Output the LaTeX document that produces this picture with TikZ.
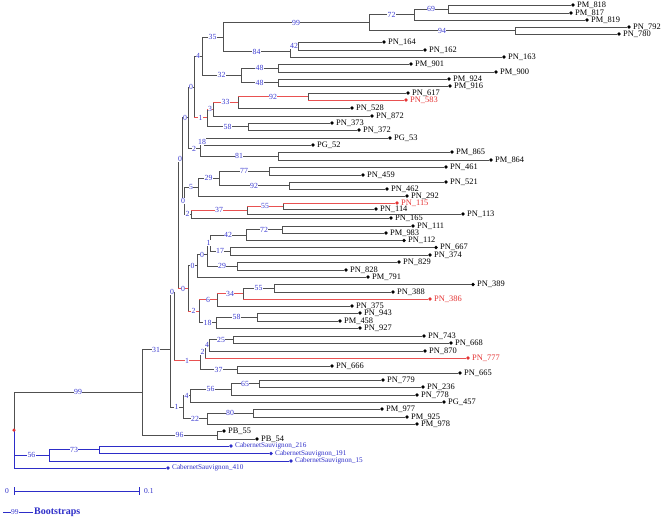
\documentclass[tikz,border=0pt]{standalone}
\usepackage{fontspec}
\setmainfont{Liberation Serif}
\definecolor{brgray}{RGB}{80,80,80}
\definecolor{bsblue}{RGB}{60,60,210}
\definecolor{hlred}{RGB}{228,50,50}
\definecolor{csblue}{RGB}{45,45,200}
% internal node: name, x, first child, last child (y = middle of children)
\newcommand{\inode}[4]{%
  \path (#3.center) -- (#4.center) coordinate[midway] (#1m);
  \coordinate (#1) at (#1m -| #2,0);}
\begin{document}
\begin{tikzpicture}[x=1pt,y=-1pt,
  br/.style={draw=brgray, line width=0.9pt},
  redbr/.style={draw=hlred!85, line width=0.9pt},
  bluebr/.style={draw=csblue, line width=0.9pt},
  bs/.style={pos=0.75, fill=white, inner sep=0.4pt, text=bsblue, font=\fontsize{7.8}{8}\selectfont},
  leafdot/.style={circle, fill=black, inner sep=0pt, minimum size=3.6pt},
  leaflbl/.style={anchor=west, inner sep=0pt, xshift=2pt, font=\fontsize{8.4}{9}\selectfont},
  cslbl/.style={leaflbl, text=csblue, font=\fontsize{7.2}{8}\selectfont},
]
\useasboundingbox (0,0) rectangle (662,519);

% leaves
\foreach \n/\x/\y/\t in {pm818/573/5/PM\_818, pm817/571/13/PM\_817, pm819/587/20/PM\_819,
    pn792/629/27/PN\_792, pn780/619/34/PN\_780, pn164/384/42/PN\_164, pn162/425/50/PN\_162,
    pn163/504/57/PN\_163, pm901/411/64/PM\_901, pm900/496/72/PM\_900, pm924/449/79/PM\_924,
    pm916/450/86/PM\_916, pn617/408/93/PN\_617, pn528/352/108/PN\_528, pn872/372/116/PN\_872,
    pn373/332/123/PN\_373, pn372/359/130/PN\_372, pg53/390/138/PG\_53, pg52/313/145/PG\_52,
    pm865/452/152/PM\_865, pm864/491/160/PM\_864, pn461/446/167/PN\_461, pn459/363/175/PN\_459,
    pn521/446/182/PN\_521, pn462/387/189/PN\_462, pn292/407/196/PN\_292, pn114/376/209/PN\_114,
    pn113/463/214/PN\_113, pn165/391/218/PN\_165, pn111/413/226/PN\_111, pm983/386/233/PM\_983,
    pn112/404/240.5/PN\_112, pn667/436/247.5/PN\_667, pn374/430/255/PN\_374, pn829/399/262/PN\_829,
    pn828/346/270/PN\_828, pm791/368/277/PM\_791, pn389/473/284.5/PN\_389, pn388/393/292/PN\_388,
    pn375/352/306/PN\_375, pn943/360/313/PN\_943, pm458/340/321/PM\_458, pn927/360/328/PN\_927,
    pn743/424/336/PN\_743, pn668/451/343/PN\_668, pn870/425/351/PN\_870, pn666/332/366/PN\_666,
    pn665/460/373/PN\_665, pn779/383/380/PN\_779, pn236/423/387/PN\_236, pn778/417/395/PN\_778,
    pg457/444/402/PG\_457, pm977/382/409/PM\_977, pm925/407/417/PM\_925, pm978/417/424/PM\_978,
    pb55/224/431/PB\_55, pb54/257/439/PB\_54}
{
  \node[leafdot] (\n) at (\x,\y) {};
  \node[leaflbl] (\n-l) at (\n.east) {\t};
}
\foreach \n/\x/\y/\t in {pn583/406/100/PN\_583, pn115/397/203/PN\_115, pn386/430/299/PN\_386, pn777/468/358/PN\_777}
{
  \node[leafdot, fill=hlred] (\n) at (\x,\y) {};
  \node[leaflbl, text=hlred] (\n-l) at (\n.east) {\t};
}
\foreach \n/\x/\y/\t in {cs216/231/446/CabernetSauvignon\_216, cs191/271/453.5/CabernetSauvignon\_191,
    cs15/291/461/CabernetSauvignon\_15, cs410/168/468/CabernetSauvignon\_410}
{
  \node[leafdot, fill=csblue] (\n) at (\x,\y) {};
  \node[cslbl] (\n-l) at (\n.east) {\t};
}

% internal nodes, from the tips down to the root
\inode{n69}{448}{pm818}{pm817}
\inode{n72}{414}{n69}{pm819}
\inode{n94}{515}{pn792}{pn780}
\inode{n99}{369}{n72}{n94}
\inode{n42}{298}{pn164}{pn162}
\inode{n84}{290}{n42}{pn163}
\inode{n35}{223}{n99}{n84}
\inode{n48a}{278}{pm901}{pm900}
\inode{n48b}{278}{pm924}{pm916}
\inode{n32}{241}{n48a}{n48b}
\inode{n4}{202}{n35}{n32}
\inode{n92}{308}{pn617}{pn583}
\inode{n33}{238}{n92}{pn528}
\inode{n3}{213}{n33}{pn872}
\inode{n58}{248}{pn373}{pn372}
\inode{r1}{207}{n3}{n58}
\inode{nB}{194}{n4}{r1}
\inode{n18}{204}{pg53}{pg52}
\inode{n81}{278}{pm865}{pm864}
\inode{n2}{200}{n18}{n81}
\inode{nC}{188}{nB}{n2}
\inode{n77}{269}{pn461}{pn459}
\inode{n92b}{289}{pn521}{pn462}
\inode{n29}{219}{n77}{n92b}
\inode{n5}{198}{n29}{pn292}
\inode{n55}{283}{pn115}{pn114}
\inode{n37}{247}{n55}{pn113}
\inode{n2b}{191}{n37}{pn165}
\inode{nE}{184}{n5}{n2b}
\inode{nD}{182}{nC}{nE}
\inode{n72b}{282}{pn111}{pm983}
\inode{n42b}{246}{n72b}{pn112}
\inode{n17}{230}{pn667}{pn374}
\inode{nH}{210}{n42b}{n17}
\inode{n29b}{237}{pn829}{pn828}
\inode{nI}{207}{nH}{n29b}
\inode{nJ}{197}{nI}{pm791}
\inode{n55b}{274}{pn389}{pn388}
\inode{n34}{243}{n55b}{pn386}
\inode{n6}{217}{n34}{pn375}
\inode{n58b}{257}{pn943}{pm458}
\inode{n18b}{216}{n58b}{pn927}
\inode{nK}{199}{n6}{n18b}
\inode{nL}{188}{nJ}{nK}
\inode{nF}{178}{nD}{nL}
\inode{n25}{233}{pn743}{pn668}
\inode{nQ}{209}{n25}{pn870}
\inode{nP}{205}{nQ}{pn777}
\inode{n37b}{237}{pn666}{pn665}
\inode{nN}{200}{nP}{n37b}
\inode{nM}{174}{nF}{nN}
\inode{n65}{259}{pn779}{pn236}
\inode{n56b}{231}{n65}{pn778}
\inode{nR}{190}{n56b}{pg457}
\inode{n80}{253}{pm977}{pm925}
\inode{n22}{207}{n80}{pm978}
\inode{nO}{183}{nR}{n22}
\inode{n31}{170}{nM}{nO}
\inode{n96}{217}{pb55}{pb54}
\inode{nin}{142}{n31}{n96}
\inode{n73}{99}{cs216}{cs191}
\inode{n56}{49}{n73}{cs15}
\inode{root}{14}{nin}{cs410}

% branches to the tips
\foreach \p/\c in {n69/pm818, n69/pm817, n72/pm819, n94/pn792, n94/pn780, n42/pn164, n42/pn162,
    n84/pn163, n48a/pm901, n48a/pm900, n48b/pm924, n48b/pm916, n92/pn617, n33/pn528, n3/pn872,
    n58/pn373, n58/pn372, n18/pg53, n18/pg52, n81/pm865, n81/pm864, n77/pn461, n77/pn459,
    n92b/pn521, n92b/pn462, n5/pn292, n55/pn114, n37/pn113, n2b/pn165, n72b/pn111, n72b/pm983,
    n42b/pn112, n17/pn667, n17/pn374, n29b/pn829, n29b/pn828, nJ/pm791, n55b/pn389, n55b/pn388,
    n6/pn375, n58b/pn943, n58b/pm458, n18b/pn927, n25/pn743, n25/pn668, nQ/pn870, n37b/pn666,
    n37b/pn665, n65/pn779, n65/pn236, n56b/pn778, nR/pg457, n80/pm977, n80/pm925, n22/pm978,
    n96/pb55, n96/pb54}
  \draw[br] (\p) |- (\c);

% inner branches
\def\blackbr{n72/n69/69, n99/n72/72, n99/n94/94, n35/n99/99, n84/n42/42, n35/n84/84, n4/n35/35,
    n32/n48a/48, n32/n48b/48, n4/n32/32, nB/n4/4, r1/n58/58, nC/nB/0, n2/n18/18, n2/n81/81,
    nC/n2/2, nD/nC/0, n29/n77/77, n29/n92b/92, n5/n29/29, nE/n5/5, nE/n2b/2, nD/nE/0, nF/nD/0,
    n42b/n72b/72, nH/n42b/42, nH/n17/17, nI/nH/1, nI/n29b/29, nJ/nI/0, nL/nJ/0, n34/n55b/55,
    n18b/n58b/58, nK/n18b/18, nQ/n25/25, nP/nQ/4, nN/n37b/37, n56b/n65/65, nR/n56b/56, nO/nR/4,
    n22/n80/80, nO/n22/22, n31/nM/0, n31/nO/1, nin/n31/31, nin/n96/96, root/nin/99}
\def\redbr{nB/r1/1, r1/n3/3, n3/n33/33, n33/n92/92, n2b/n37/37, n37/n55/55, nF/nL/0, nL/nK/2,
    nK/n6/6, n6/n34/34, nM/nN/1, nN/nP/2}
\def\bluebr{root/n56/56, n56/n73/73}
\foreach \p/\c/\v in \blackbr \draw[br] (\p) |- (\c);
% red path: grey upright, red across
\foreach \p/\c/\v in \redbr {
  \draw[br] (\p) -- (\p |- \c);
  \draw[redbr] (\p |- \c) -- (\c);
}
\foreach \p/\c in {n92/pn583, n55/pn115, n34/pn386, nP/pn777} {
  \draw[br] (\p) -- (\p |- \c);
  \draw[redbr] (\p |- \c) -- (\c);
}
\foreach \p/\c/\v in \bluebr \draw[bluebr] (\p) |- (\c);
\foreach \p/\c in {n73/cs216, n73/cs191, n56/cs15, root/cs410} \draw[bluebr] (\p) |- (\c);

% bootstrap values
\foreach \p/\c/\v in \blackbr \path (\p) |- node[bs] {\v} (\c);
\foreach \p/\c/\v in \redbr \path (\p) |- node[bs] {\v} (\c);
\foreach \p/\c/\v in \bluebr \path (\p) |- node[bs] {\v} (\c);

\fill[hlred] (root) circle (1.8pt);

% scale bar
\coordinate (sb0) at (14,491);
\coordinate (sb1) at (139,491);
\draw[bluebr] (sb0) -- (sb1);
\draw[bluebr] ([yshift=4pt]sb0) -- ([yshift=-4pt]sb0);
\draw[bluebr] ([yshift=4pt]sb1) -- ([yshift=-4pt]sb1);
\node[anchor=east, inner sep=0pt, text=csblue, font=\fontsize{7.5}{8}\selectfont] (sb0-l) at ([xshift=-5pt]sb0) {0};
\node[anchor=west, inner sep=0pt, text=csblue, font=\fontsize{7.5}{8}\selectfont] (sb1-l) at ([xshift=5pt]sb1) {0.1};

% legend
\coordinate (lg0) at (3,512);
\coordinate (lg1) at (33,512);
\draw[bluebr] (lg0) -- node[pos=0.4, fill=white, inner sep=0.4pt, text=bsblue, font=\fontsize{7.5}{8}\selectfont] (lg-v) {99} (lg1);
\node[anchor=west, inner sep=0pt, text=csblue, font=\bfseries\fontsize{10}{11}\selectfont] (lg-t) at ([xshift=1pt]lg1) {Bootstraps};
\end{tikzpicture}
\end{document}
